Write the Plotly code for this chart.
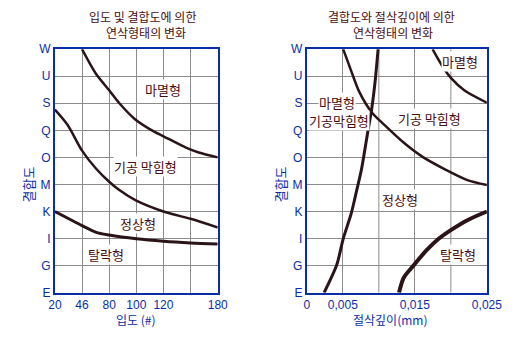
import plotly.graph_objects as go

# ---------------- data ----------------
grade_labels = ["E", "G", "I", "K", "M", "O", "Q", "S", "U", "W"]
grade_vals = list(range(10))

grit_ticks = ["20", "46", "80", "100", "120", "", "180"]
grit_pos = [0, 1, 2, 3, 4, 5, 6]

# left chart curves (x = grit grid position, y = grade index)
l_wear_x = [1.0, 1.52, 2.0, 2.36, 2.94, 3.64, 4.0, 4.83, 5.3, 6.0]
l_wear_y = [9.0, 8.08, 7.48, 7.02, 6.42, 5.96, 5.78, 5.36, 5.18, 5.0]
l_clog_x = [0.0, 0.47, 1.0, 1.52, 2.0, 2.36, 3.0, 4.0, 5.0, 6.0]
l_clog_y = [6.77, 6.2, 5.25, 4.58, 4.1, 3.8, 3.4, 3.0, 2.73, 2.41]
l_shed_x = [0.0, 1.0, 1.52, 2.0, 3.0, 4.0, 5.0, 6.0]
l_shed_y = [3.0, 2.48, 2.23, 2.13, 1.99, 1.9, 1.84, 1.8]

# right chart curves (x = depth of cut mm, y = grade index)
depth_ticks = ["0", "0,005", "0,015", "0,025"]
depth_tickvals = [0.0, 0.005, 0.015, 0.025]
depth_grid = [0.0, 0.005, 0.010, 0.015, 0.020, 0.025]

r_steep_x = [0.0024, 0.00416, 0.00505, 0.00616, 0.0069, 0.0076, 0.0084, 0.0090, 0.0095, 0.0099]
r_steep_y = [0.0, 1.03, 1.99, 2.92, 3.75, 4.57, 5.84, 6.78, 7.85, 9.0]
r_clog_x = [0.00505, 0.00616, 0.00727, 0.0090, 0.01081, 0.01347, 0.01613, 0.01924, 0.0223, 0.025]
r_clog_y = [9.0, 8.2, 7.43, 6.67, 6.19, 5.54, 5.01, 4.55, 4.16, 3.98]
r_wear_x = [0.01746, 0.0188, 0.0201, 0.0219, 0.025]
r_wear_y = [9.0, 8.38, 7.91, 7.47, 7.02]
r_shed_x = [0.0128, 0.01347, 0.0148, 0.0166, 0.0183, 0.0201, 0.0223, 0.025]
r_shed_y = [0.0, 0.56, 1.0, 1.56, 1.99, 2.33, 2.68, 3.0]

# region labels
left_labels = [("마멸형", 4.0, 7.5), ("기공 막힘형", 3.35, 4.65), ("정상형", 3.07, 2.55), ("탈락형", 1.87, 1.42)]
right_labels = [("마멸형", 0.0213, 8.55), ("마멸형", 0.0042, 7.04), ("기공막힘형", 0.0045, 6.36),
                ("기공 막힘형", 0.0170, 6.43), ("정상형", 0.0130, 3.45), ("탈락형", 0.0210, 1.41)]

# ---------------- style ----------------
BLUE = "#0a2ea8"
MAROON = "#4a0c10"
CURVE = "#2b1418"
GRID = "#8c8c8c"
KFONT = "Noto Sans CJK KR, Noto Sans, sans-serif"

W, H = 522, 338
def px_x(p):
    return p / W
def px_y(p):
    return 1 - p / H

fig = go.Figure()

def add_line(x, y, axis, width):
    xa, ya = axis
    fig.add_trace(go.Scatter(x=x, y=y, mode="lines", xaxis=xa, yaxis=ya,
                             line=dict(color=CURVE, width=width, shape="spline", smoothing=0.8),
                             hoverinfo="skip", showlegend=False))

add_line(l_wear_x, l_wear_y, ("x", "y"), 2.5)
add_line(l_clog_x, l_clog_y, ("x", "y"), 2.5)
add_line(l_shed_x, l_shed_y, ("x", "y"), 3)

add_line(r_steep_x, r_steep_y, ("x2", "y2"), 3)
add_line(r_clog_x, r_clog_y, ("x2", "y2"), 2.5)
add_line(r_wear_x, r_wear_y, ("x2", "y2"), 2.5)
add_line(r_shed_x, r_shed_y, ("x2", "y2"), 4)

annotations = []
for t, x, y in left_labels:
    annotations.append(dict(text=t, x=x, y=y, xref="x", yref="y", showarrow=False,
                            xanchor="center", yanchor="middle",
                            font=dict(family=KFONT, size=13, color=MAROON), bgcolor="white", borderpad=0))
for t, x, y in right_labels:
    annotations.append(dict(text=t, x=x, y=y, xref="x2", yref="y2", showarrow=False,
                            xanchor="center", yanchor="middle",
                            font=dict(family=KFONT, size=13, color=MAROON), bgcolor="white", borderpad=0))

def paper_text(text, x, y, color, angle=0, size=13):
    return dict(text=text, x=px_x(x), y=px_y(y), xref="paper", yref="paper", textangle=angle,
                xanchor="center", yanchor="middle", showarrow=False, align="center",
                font=dict(family=KFONT, size=size, color=color))

annotations += [
    paper_text("입도 및 결합도에 의한", 141, 10, MAROON, 0, 12),
    paper_text("연삭형태의 변화", 145, 27, MAROON, 0, 12),
    paper_text("결합도와 절삭깊이에 의한", 401, 10, MAROON, 0, 12),
    paper_text("연삭형태의 변화", 403, 27, MAROON, 0, 12),
    paper_text("결합도", 22, 185, BLUE, -90),
    paper_text("결합도", 285, 185, BLUE, -90),
    paper_text("입도 (#)", 135, 326, BLUE, 0, 12),
    paper_text("절삭깊이(mm)", 400, 326, BLUE, 0, 12),
]

axis_common = dict(showline=True, mirror=True, linecolor=BLUE, linewidth=2,
                   showgrid=True, gridcolor=GRID, gridwidth=1, zeroline=False,
                   ticks="", tickfont=dict(family="Liberation Sans, Arial, sans-serif", size=12, color=BLUE),
                   fixedrange=True)

fig.update_layout(
    width=W, height=H, margin=dict(l=0, r=0, t=0, b=0),
    paper_bgcolor="white", plot_bgcolor="white",
    showlegend=False,
    xaxis=dict(domain=[px_x(50), px_x(220)], range=[0, 6], tickmode="array",
               tickvals=grit_pos, ticktext=grit_ticks, anchor="y", **axis_common),
    yaxis=dict(domain=[px_y(298), px_y(44)], range=[0, 9], tickmode="array",
               tickvals=grade_vals, ticktext=grade_labels, anchor="x", **axis_common),
    xaxis2=dict(domain=[px_x(313), px_x(501)], range=[0, 0.025], tickmode="array",
                tickvals=depth_tickvals, ticktext=depth_ticks, anchor="y2", **axis_common),
    yaxis2=dict(domain=[px_y(298), px_y(44)], range=[0, 9], tickmode="array",
                tickvals=grade_vals, ticktext=grade_labels, anchor="x2", **axis_common),
    annotations=annotations,
)

# extra vertical grid at 0.010 and 0.020 (unlabelled)
for gx in depth_grid:
    if gx not in depth_tickvals:
        fig.add_shape(type="line", xref="x2", yref="y2", x0=gx, x1=gx, y0=0, y1=9,
                      line=dict(color=GRID, width=1), layer="below")

fig.write_html("out.html")
